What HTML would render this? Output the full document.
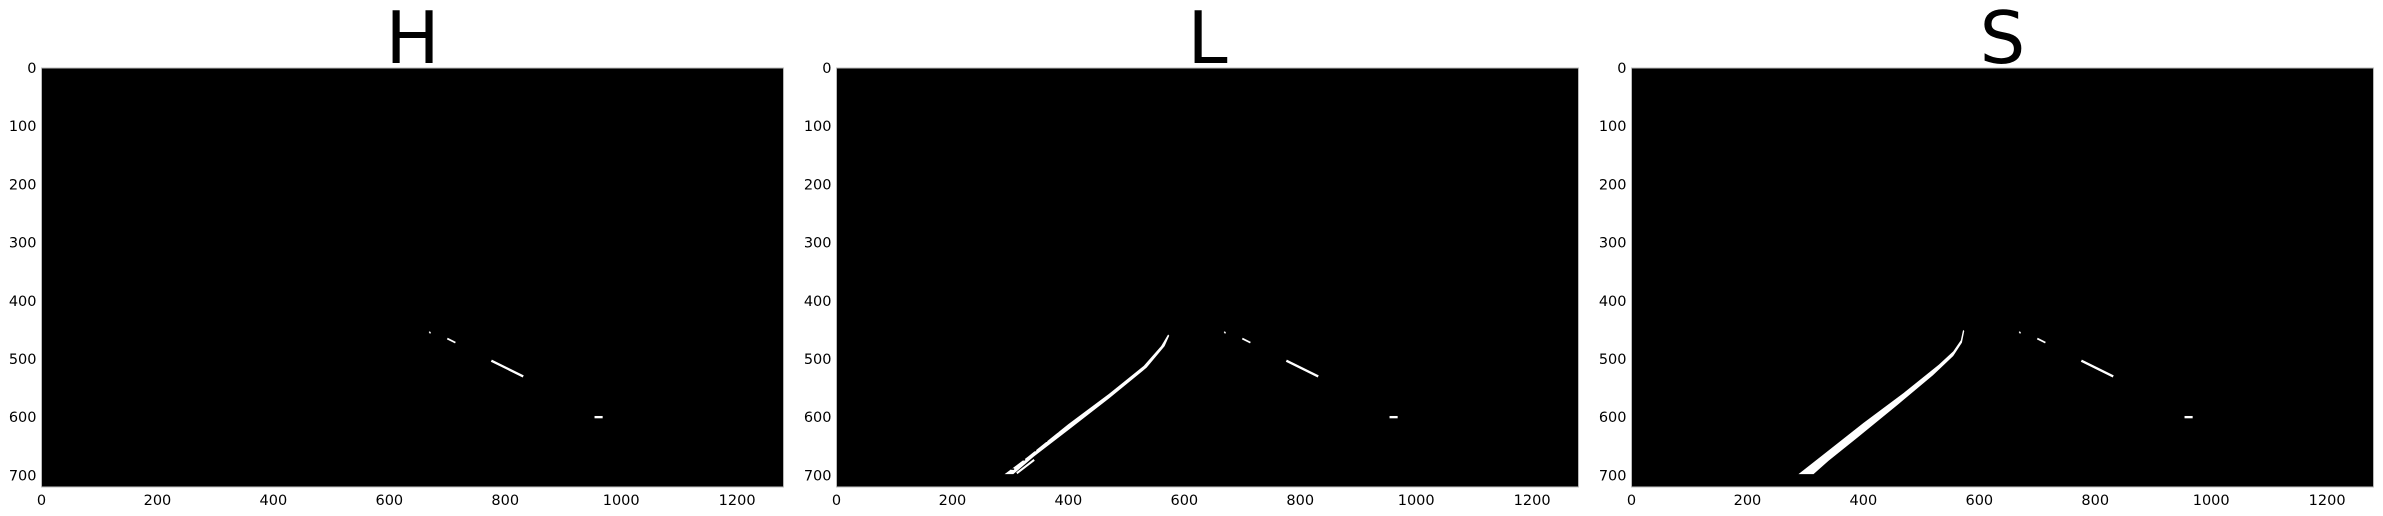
<!DOCTYPE html>
<html><head><meta charset="utf-8"><style>
body{margin:0;background:#fff;}
svg{display:block;font-family:"DejaVu Sans","Liberation Sans",sans-serif;}
</style></head><body>
<svg id="chart" width="2383" height="516"></svg>
<script>
const panelTitles=["H","L","S"];
const xTicks=[0,200,400,600,800,1000,1200];
const yTicks=[0,100,200,300,400,500,600,700];
const imgW=1280, imgH=720;
// marks common to all channels (data coords: [x1,y1,x2,y2,width])
const dashMarks=[[669,453,671,456,2.5],[700,465,714,472,3],[776,503,831,530,4]];
const blobMarks=[[954,598,968,602]];
// lane polygons: S solid, L broken
const sLane=[[288,698],[330,665],[400,610],[470,558],[530,510],[555,487],[568,468],[572,450],[574,452],[570,472],[555,495],[520,528],[460,578],[390,635],[340,675],[314,698]];
const lLane=[[290,698],[330,668],[400,612],[470,560],[530,512],[560,478],[572,458],[574,460],[566,478],[535,515],[470,568],[400,622],[340,668],[305,698]];
const lLane2=[[310,695],[340,672],[342,675],[312,698]];
const panelLeft=[41.5,836.5,1631.5], panelTop=68, sc=0.5797, scy=0.5819;
const NS="http://www.w3.org/2000/svg";
const svg=document.getElementById('chart');
function mk(t,a){const e=document.createElementNS(NS,t);for(const k in a)e.setAttribute(k,a[k]);return e;}
panelTitles.forEach((t,i)=>{
  const L=panelLeft[i];
  const X=v=>L+v*sc, Y=v=>panelTop+v*scy;
  const g=mk('g',{});
  
  
  svg.appendChild(g);
  const bg=mk('rect',{x:X(0),y:Y(0),width:imgW*sc,height:imgH*scy,fill:'#000',stroke:'#bbb','stroke-width':1});
  
  
  g.appendChild(bg);
  const tt=mk('text',{x:X(imgW/2),y:63,'font-size':72,'text-anchor':'middle',fill:'#000'});
  tt.textContent=t;
  
  
  g.appendChild(tt);
  xTicks.forEach(v=>{const e=mk('text',{x:X(v),y:505,'font-size':14.5,'text-anchor':'middle',fill:'#000'});e.textContent=v;
    
    
    g.appendChild(e);});
  yTicks.forEach(v=>{const e=mk('text',{x:L-5,y:Y(v)+5,'font-size':14.5,'text-anchor':'end',fill:'#000'});e.textContent=v;
    
    
    g.appendChild(e);});
  dashMarks.forEach(d=>{const e=mk('line',{x1:X(d[0]),y1:Y(d[1]),x2:X(d[2]),y2:Y(d[3]),stroke:'#fff','stroke-width':d[4]*sc});
    
    
    g.appendChild(e);});
  blobMarks.forEach(d=>{const e=mk('rect',{x:X(d[0]),y:Y(d[1]),width:(d[2]-d[0])*sc,height:(d[3]-d[1])*scy,fill:'#fff'});
    
    
    g.appendChild(e);});
  const polys = t==='S'?[sLane]:t==='L'?[lLane,lLane2]:[];
  polys.forEach(p=>{const e=mk('polygon',{points:p.map(q=>X(q[0])+','+Y(q[1])).join(' '),fill:'#fff'});
    
    
    g.appendChild(e);});
  if(t==='L'){for(let k=0;k<14;k++){const y=480+k*16;const x=575-(575-290)*(y-460)/240;
    const e=mk('rect',{x:X(x-3),y:Y(y),width:3,height:1.5,fill:'#000'});
    
    
    g.appendChild(e);}}
});
</script>
</body></html>
